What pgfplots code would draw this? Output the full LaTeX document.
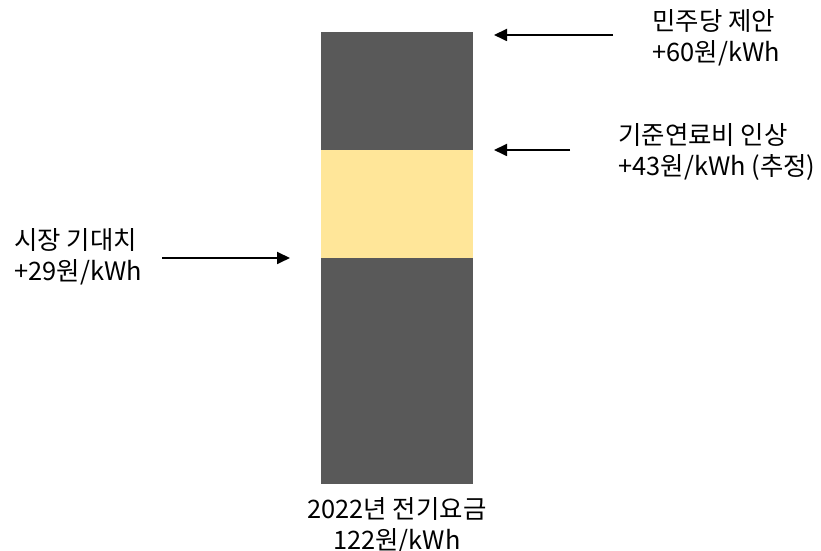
\documentclass[border=0pt]{standalone}
\usepackage{fontspec}
\setmainfont{Noto Sans CJK KR}
\usepackage{pgfplots}
\pgfplotsset{compat=1.18}
\usetikzlibrary{arrows.meta}
\definecolor{dgray}{HTML}{595959}
\definecolor{lyellow}{HTML}{FFE699}
\begin{document}
\begin{tikzpicture}
\useasboundingbox (0,0) rectangle (410.5pt,275.5pt);
\begin{axis}[
  at={(0,0)}, anchor=south west,
  scale only axis, width=410.5pt, height=275.5pt,
  xmin=0, xmax=821, ymin=-36.17, ymax=261.27,
  hide axis, ybar stacked, bar width=152,
  clip=false,
]
\addplot[fill=dgray, draw=none] coordinates {(397,122)};
\addplot[fill=lyellow, draw=none] coordinates {(397,58.3)};
\addplot[fill=dgray, draw=none] coordinates {(397,63.7)};
\end{axis}
\begin{scope}[x=0.5pt, y=-0.5pt, shift={(0,275.5pt)}, font=\fontsize{12.7}{15.5}\selectfont]
\draw[line width=0.9pt, -{Triangle[length=6.5pt,width=6pt]}] (613,35) -- (494,35);
\draw[line width=0.9pt, -{Triangle[length=6.5pt,width=6pt]}] (570,150) -- (494,150);
\draw[line width=0.9pt, -{Triangle[length=6.5pt,width=6pt]}] (162,258) -- (290,258);
\node[anchor=west, align=left, inner sep=0] at (652,37.5) {민주당 제안\\+60원/kWh};
\node[anchor=west, align=left, inner sep=0] at (618,152) {기준연료비 인상\\+43원/kWh (추정)};
\node[anchor=west, align=left, inner sep=0] at (14,257) {시장 기대치\\+29원/kWh};
\node[anchor=center, align=center, inner sep=0] at (397,526) {2022년 전기요금\\122원/kWh};
\end{scope}
\end{tikzpicture}
\end{document}
